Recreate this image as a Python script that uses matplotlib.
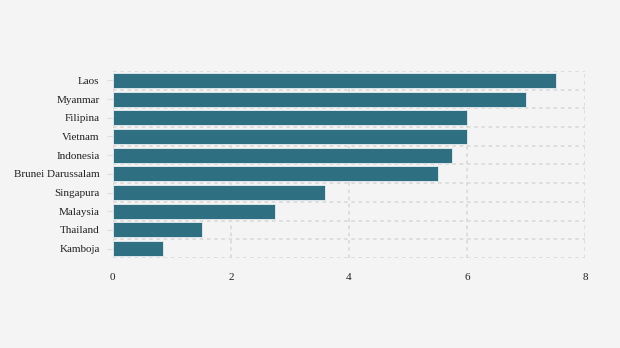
import matplotlib.pyplot as plt
import numpy as np

countries = ["Laos", "Myanmar", "Filipina", "Vietnam", "Indonesia",
             "Brunei Darussalam", "Singapura", "Malaysia", "Thailand", "Kamboja"]
values = [7.51, 7.0, 6.0, 6.0, 5.75, 5.51, 3.59, 2.75, 1.51, 0.85]

plt.rcParams['font.family'] = ['Liberation Serif', 'DejaVu Serif']

fig = plt.figure(figsize=(6.2, 3.48), dpi=100, facecolor="#f4f4f4")
ax = fig.add_axes([0.182, 0.2586, 0.7615, 0.5374])
ax.set_facecolor("#f4f4f4")

y = np.arange(len(countries))
ax.barh(y, values, height=0.8, color="#2f6f82", edgecolor="#e6eef0", linewidth=0.6, zorder=3)

ax.set_xlim(0, 8)
ax.set_ylim(len(countries) - 0.5, -0.5)
ax.set_xticks([0, 2, 4, 6, 8])
ax.set_yticks(y)
ax.set_yticklabels(countries)
ax.set_yticks(np.arange(-0.5, len(countries)), minor=True)

ax.grid(True, which="major", axis="x", color="#dcdcdc", linestyle=(0, (2, 2)), linewidth=1.3, zorder=0)
ax.grid(True, which="minor", axis="y", color="#dcdcdc", linestyle=(0, (2, 2)), linewidth=1.3, zorder=0)

ax.tick_params(axis="y", which="major", length=4, color="#dddddd", pad=5.5, labelsize=8, labelcolor="#222222")
ax.tick_params(axis="y", which="minor", length=0)
ax.tick_params(axis="x", length=0, pad=10.5, labelsize=8, labelcolor="#222222")

for s in ax.spines.values():
    s.set_visible(False)

fig.savefig("out.png", dpi=100, facecolor=fig.get_facecolor())
